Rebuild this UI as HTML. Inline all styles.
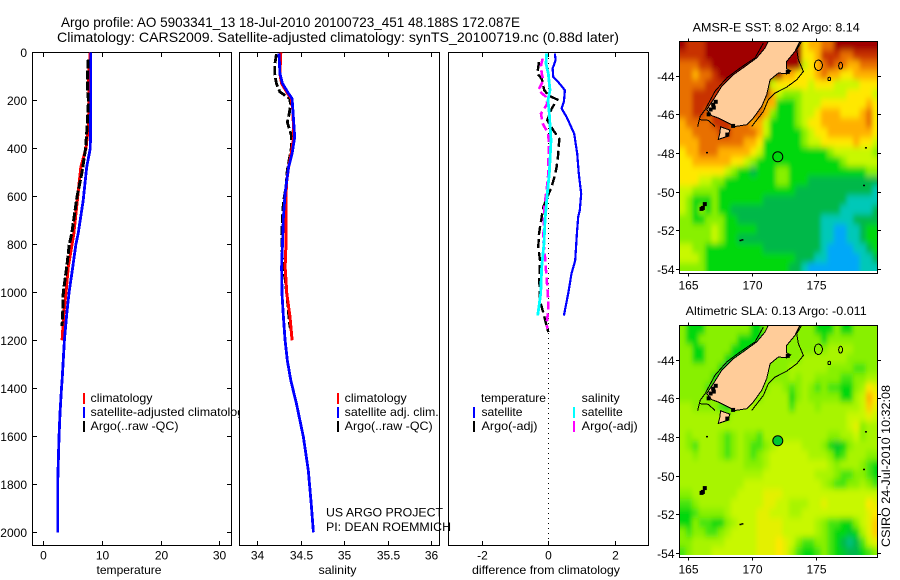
<!DOCTYPE html>
<html>
<head>
<meta charset="utf-8">
<title>Argo profile</title>
<style>
html,body{margin:0;padding:0;background:#fff;}
svg{display:block;}
text{font-family:"Liberation Sans",sans-serif;font-size:12px;fill:#000;}
.t{font-size:14px;}
</style>
</head>
<body>
<svg id="chart" xmlns="http://www.w3.org/2000/svg" width="900" height="580" viewBox="0 0 900 580">
<defs>
<clipPath id="clip-sst"><rect x="680" y="42" width="197" height="229"/></clipPath>
<clipPath id="clip-sla"><rect x="680" y="326" width="197" height="229"/></clipPath>
<filter id="soft" x="-5%" y="-5%" width="110%" height="110%"><feGaussianBlur stdDeviation="2.2 3.2"/></filter>
</defs>
<rect width="900" height="580" fill="#fff"/>
<text class="t" x="61" y="27" textLength="459" lengthAdjust="spacingAndGlyphs">Argo profile: AO 5903341_13 18-Jul-2010 20100723_451 48.188S 172.087E</text>
<text class="t" x="57" y="42" textLength="562" lengthAdjust="spacingAndGlyphs">Climatology: CARS2009. Satellite-adjusted climatology: synTS_20100719.nc (0.88d later)</text>

<g id="p1">
<rect x="32.5" y="52.5" width="199" height="493" fill="#fff" stroke="#000"/>
<g id="p1-lines"></g>
<g>
<rect x="83" y="393" width="2" height="11" fill="#f00"/>
<rect x="83" y="407" width="2" height="11" fill="#00f"/>
<rect x="83" y="421" width="2" height="11" fill="#000"/>
<text x="90.5" y="402" textLength="62" lengthAdjust="spacingAndGlyphs">climatology</text>
<text x="90.5" y="416" textLength="160" lengthAdjust="spacingAndGlyphs">satellite-adjusted climatology</text>
<text x="90.5" y="430" textLength="88" lengthAdjust="spacingAndGlyphs">Argo(..raw -QC)</text>
</g>
<text x="129" y="574" text-anchor="middle" textLength="65" lengthAdjust="spacingAndGlyphs">temperature</text>
</g>

<g id="p2">
<rect x="239.5" y="52.5" width="200" height="493" fill="#fff" stroke="#000"/>
<g id="p2-lines"></g>
<g>
<rect x="337" y="393" width="2" height="11" fill="#f00"/>
<rect x="337" y="407" width="2" height="11" fill="#00f"/>
<rect x="337" y="421" width="2" height="11" fill="#000"/>
<text x="344.7" y="402" textLength="62" lengthAdjust="spacingAndGlyphs">climatology</text>
<text x="344.7" y="416" textLength="94" lengthAdjust="spacingAndGlyphs">satellite adj. clim.</text>
<text x="344.7" y="430" textLength="88" lengthAdjust="spacingAndGlyphs">Argo(..raw -QC)</text>
</g>
<text x="337.5" y="574" text-anchor="middle" textLength="38" lengthAdjust="spacingAndGlyphs">salinity</text>
</g>

<g id="p3">
<rect x="448.5" y="52.5" width="200" height="493" fill="#fff" stroke="#000"/>
<line x1="548.5" y1="53" x2="548.5" y2="545" stroke="#000" stroke-width="1" stroke-dasharray="1 4" shape-rendering="crispEdges"/>
<g id="p3-lines"></g>
<g>
<text x="481" y="402" textLength="65" lengthAdjust="spacingAndGlyphs">temperature</text>
<text x="581.7" y="402" textLength="38" lengthAdjust="spacingAndGlyphs">salinity</text>
<rect x="473" y="407" width="2" height="11" fill="#00f"/>
<rect x="473" y="421" width="2" height="11" fill="#000"/>
<rect x="573" y="407" width="2" height="11" fill="#0ff"/>
<rect x="573" y="421" width="2" height="11" fill="#f0f"/>
<text x="481.5" y="416" textLength="41" lengthAdjust="spacingAndGlyphs">satellite</text>
<text x="481.5" y="430" textLength="56" lengthAdjust="spacingAndGlyphs">Argo(-adj)</text>
<text x="581.7" y="416" textLength="41" lengthAdjust="spacingAndGlyphs">satellite</text>
<text x="581.7" y="430" textLength="56" lengthAdjust="spacingAndGlyphs">Argo(-adj)</text>
</g>
<text x="546" y="574" text-anchor="middle" textLength="148" lengthAdjust="spacingAndGlyphs">difference from climatology</text>
</g>

<text x="326" y="516.5" textLength="117" lengthAdjust="spacingAndGlyphs">US ARGO PROJECT</text>
<text x="326" y="531" textLength="125" lengthAdjust="spacingAndGlyphs">PI: DEAN ROEMMICH</text>

<text x="692.7" y="31.5" textLength="167" lengthAdjust="spacingAndGlyphs">AMSR-E SST: 8.02 Argo: 8.14</text>
<text x="685.7" y="315" textLength="181" lengthAdjust="spacingAndGlyphs">Altimetric SLA: 0.13 Argo: -0.011</text>
<g id="m1"></g>
<g id="m2"></g>
<text transform="translate(890,547) rotate(-90)" textLength="162" lengthAdjust="spacingAndGlyphs">CSIRO 24-Jul-2010 10:32:08</text>
</svg>

<script>
// ---- profile axis ticks ----
const depthTicks = [0, 200, 400, 600, 800, 1000, 1200, 1400, 1600, 1800, 2000];
const tempTicks = [0, 10, 20, 30];
const salTicks = [34, 34.5, 35, 35.5, 36];
const salTickLabels = ["34", "34.5", "35", "35.5", "36"];
const diffTicks = [-2, 0, 2];

// ---- temperature panel ----
const tempClimDepth = [0, 100, 200, 300, 400, 478, 617, 755, 896, 1000, 1088, 1200];
const tempClimValue = [8.0, 7.7, 7.8, 7.7, 7.27, 6.4, 5.8, 5.2, 4.25, 3.87, 3.5, 3.2];
const tempSatDepth = [0, 100, 200, 400, 478, 617, 755, 800, 896, 1000, 1088, 1200, 1367, 1400, 1504, 1604, 1796, 2000];
const tempSatValue = [8.1, 8.1, 8.1, 8.0, 7.4, 6.8, 5.95, 5.55, 5.0, 4.4, 4.0, 3.6, 3.2, 3.1, 2.85, 2.67, 2.45, 2.45];
const tempArgoDepth = [30, 100, 150, 200, 300, 400, 500, 600, 755, 800, 896, 1000, 1088, 1140];
const tempArgoValue = [7.67, 7.5, 7.5, 7.7, 7.5, 7.2, 6.6, 5.75, 4.85, 4.43, 3.98, 3.4, 3.3, 3.2];

// ---- salinity panel ----
const salClimDepth = [0, 89, 130, 172, 193, 242, 353, 422, 478, 533, 589, 686, 797, 894, 1005, 1103, 1200];
const salClimValue = [34.27, 34.26, 34.28, 34.35, 34.39, 34.41, 34.42, 34.39, 34.36, 34.34, 34.33, 34.33, 34.33, 34.32, 34.34, 34.376, 34.40];
const salSatDepth = [5, 89, 130, 172, 193, 242, 353, 422, 478, 533, 589, 686, 797, 894, 1005, 1103, 1200, 1283, 1367, 1463, 1603, 1742, 1880, 2000];
const salSatValue = [34.25, 34.26, 34.29, 34.36, 34.40, 34.41, 34.43, 34.40, 34.36, 34.34, 34.32, 34.30, 34.29, 34.28, 34.284, 34.30, 34.32, 34.345, 34.385, 34.45, 34.53, 34.587, 34.62, 34.645];
const salArgoDepth = [8, 54, 89, 130, 165, 180, 193, 218, 250, 292, 320, 350, 392, 440, 490, 560, 625, 686, 764, 875, 945, 1030, 1130, 1150];
const salArgoValue = [34.22, 34.20, 34.20, 34.22, 34.26, 34.32, 34.376, 34.38, 34.37, 34.345, 34.37, 34.395, 34.395, 34.37, 34.345, 34.33, 34.30, 34.29, 34.28, 34.29, 34.32, 34.345, 34.37, 34.38];

// ---- difference panel ----
const diffTempSatDepth = [5, 33, 68, 103, 124, 158, 206, 234, 269, 339, 422, 506, 589, 658, 686, 755, 867, 922, 1005, 1097];
const diffTempSatValue = [0.2, 0.22, 0.13, 0.15, 0.3, 0.5, 0.47, 0.4, 0.55, 0.78, 0.87, 0.92, 0.99, 0.95, 0.9, 0.86, 0.81, 0.7, 0.6, 0.47];
const diffTempArgoDepth = [40, 89, 110, 158, 179, 197, 235, 283, 325, 360, 422, 478, 513, 561, 603, 644, 686, 756, 811, 867, 950, 1034, 1061, 1096, 1131, 1166];
const diffTempArgoValue = [-0.28, -0.33, -0.2, -0.12, 0, 0.27, 0.1, -0.03, 0.15, 0.33, 0.3, 0.25, 0.2, 0.1, -0.03, -0.15, -0.2, -0.28, -0.3, -0.25, -0.27, -0.25, -0.2, -0.13, -0.07, 0];
const diffSalSatDepth = [5, 47, 89, 158, 200, 255, 367, 506, 589, 700, 797, 894, 1005, 1097];
const diffSalSatValue = [-0.05, -0.07, 0, 0.05, -0.01, 0.03, 0.08, 0.03, -0.03, -0.1, -0.13, -0.2, -0.23, -0.32];
const diffSalArgoDepth = [26, 54, 89, 117, 158, 186, 214, 256, 297, 339, 394, 436, 506, 575, 644, 686, 784, 853, 909, 978, 1034, 1075, 1131, 1152];
const diffSalArgoValue = [-0.17, -0.22, -0.2, -0.15, -0.3, -0.07, -0.03, -0.22, -0.17, 0, 0.02, 0, 0, -0.05, -0.12, -0.13, -0.15, -0.1, -0.07, -0.03, 0, 0, -0.05, -0.03];

// ---- map axis ticks ----
const lonTicks = [165, 170, 175];
const latTicks = [-44, -46, -48, -50, -52, -54];

// ---- map grids: colour level per cell, rows north to south, columns west to east ----
const sstGrid = [
[10,9,9,9,10,10,10,10,10,10,10,10,10,10,10,10,10,10,10,6,7,7,8,8,10,10,10,10,10,10,10],
[9,9,9,9,10,10,10,10,10,10,10,10,10,10,10,10,10,10,10,6,6,7,9,9,9,8,8,9,9,9,9],
[8,8,8,9,9,10,10,10,10,10,10,10,10,10,10,10,10,10,10,5,6,7,8,9,8,8,7,7,8,8,8],
[8,8,7,8,8,9,10,10,10,10,10,10,10,10,10,10,7,7,6,6,6,7,8,7,7,6,6,7,7,7,7],
[8,8,8,8,9,9,9,10,10,10,10,10,10,10,5,6,6,6,6,6,5,6,6,6,5,5,5,5,6,6,6],
[8,8,9,9,9,9,10,10,10,10,10,10,10,10,7,5,4,4,4,5,5,5,5,5,5,5,6,6,6,6,5],
[8,8,9,9,9,9,10,10,10,10,10,10,10,7,7,3,3,3,4,5,5,5,6,6,6,6,6,6,6,7,6],
[8,8,9,9,8,9,9,9,9,9,9,9,8,7,4,3,3,3,4,5,5,6,7,7,7,6,6,6,7,8,6],
[7,8,8,8,8,9,9,9,8,8,8,7,7,5,3,3,3,3,4,5,6,6,7,7,7,7,7,7,7,8,6],
[7,7,8,8,8,8,9,9,8,8,8,8,7,5,3,3,3,3,3,4,5,6,6,7,7,7,7,7,7,7,6],
[7,7,7,8,8,8,8,8,8,8,7,7,6,3,3,3,3,3,3,4,5,5,6,6,6,6,6,7,6,6,5],
[6,7,7,8,8,8,7,7,7,7,7,6,5,3,3,3,3,3,3,3,3,3,3,4,5,5,5,5,5,5,4],
[6,6,7,7,7,7,7,7,6,6,5,4,3,3,3,3,3,3,3,3,3,3,3,3,3,4,5,5,5,5,5],
[6,6,6,6,6,6,6,5,4,3,3,2,3,3,3,4,4,3,3,3,3,3,3,3,3,3,3,3,3,4,4],
[6,6,6,5,5,4,4,3,3,3,3,3,3,3,3,4,4,3,3,3,2,2,2,2,2,2,2,2,2,2,2],
[5,5,4,4,4,4,3,3,3,3,3,3,3,3,3,3,3,3,2,2,2,2,2,2,2,2,2,2,2,2,1],
[5,4,3,3,3,4,3,3,3,3,3,3,3,2,2,2,2,2,2,2,2,2,2,2,2,2,1,1,1,1,1],
[5,4,3,4,3,4,3,3,2,2,2,2,2,2,2,2,2,2,2,2,2,2,2,2,2,1,1,1,1,1,2],
[4,4,3,3,4,4,4,3,3,2,2,2,2,2,2,2,2,2,2,2,2,2,1,1,1,1,1,2,2,2,2],
[4,4,4,4,4,5,4,3,3,3,3,3,2,2,2,2,2,2,2,2,2,2,1,1,0,0,1,1,2,3,3],
[4,4,4,4,4,5,4,3,3,2,2,2,2,2,2,2,2,2,2,2,2,2,1,1,0,0,1,1,2,3,3],
[5,5,4,4,3,3,3,3,3,3,3,3,3,2,2,2,2,2,2,2,2,2,1,0,0,0,0,1,1,2,3],
[5,5,5,4,3,3,3,3,3,3,3,3,3,3,3,3,3,3,2,2,2,1,1,0,0,0,0,0,1,1,2],
[4,4,4,4,3,3,3,3,3,3,3,3,3,3,3,3,3,2,2,1,0,0,0,0,0,0,0,0,1,1,1]
];
const slaGrid = [
[4,3,3,3,4,4,4,4,4,4,4,3,3,4,4,4,4,4,4,4,4,3,3,3,4,3,3,4,4,4,4],
[4,3,3,4,4,4,4,4,4,3,3,3,3,4,4,4,4,4,4,4,4,4,3,4,4,4,4,4,4,4,4],
[4,4,3,3,4,4,4,4,3,3,3,3,4,4,4,4,4,4,4,4,4,4,4,4.5,4.5,4.5,4.5,4,4,4,4],
[4,4,3,3,4,4,4,3,3,3,3,4,4,4,4,4,4,4,4,4.5,4.5,4.5,4.5,4.5,4.5,4.5,4,4,4,4,4],
[4,4,4,4,4,4,3,2,3,4,4,4,4,4,4,4,4,4.5,4.5,4.5,4.5,4.5,4.5,4,4,4,4,3.5,3.5,4,4],
[4,4,4,4,4,3,3,3,4,4,4,4,4,4,4,4,4,4.5,4,4.5,4.5,4,4,4,4,3.5,3.5,4,4,4.5,4.5],
[4,4,4,4,3.5,3.5,4,4,4,4,4,4,4,4,4.5,4.5,4,3.5,4,4.5,4,3.5,4,3.5,3.5,3,3,4,4.5,6,5.5],
[4,4,4,4,4,4,4,4,4,4,4,4,4,4.5,4.5,4.5,4.5,3,4,4.5,4,4,4,4,4,3,3,4.5,5,7,6],
[4.5,4.5,4,4,4,4,3.5,3,4,4.5,4.5,4.5,4.5,4.5,4.5,4.5,4.5,3.5,4.5,4.5,4.5,4,4.5,4.5,4.5,4.5,4.5,4.5,5,6.5,5.5],
[4.5,4.5,4.5,4.5,4.5,4.5,4.5,4,4.5,4.5,4.5,4.5,4.5,4.5,4.5,4.5,4.5,4.5,4.5,4.5,4.5,4.5,4.5,4.5,4.5,4.5,5,5,5,5.5,5],
[4.5,4.5,4.5,4.5,4.5,4.5,4.5,4.5,4.5,4.5,4.5,4.5,4.5,4.5,4.5,4.5,4.5,4.5,4.5,4.5,4.5,4.5,4.5,4.5,4.5,4.5,5,5.5,4,4.5,4.5],
[4.5,4,4.5,4.5,4.5,4.5,4,3.5,4,4.5,4,4,3.5,4.5,4.5,4.5,4.5,4.5,4.5,4.5,4.5,4.5,4.5,4,4,4.5,4.5,5,4,4.5,4.5],
[4.5,4,3.5,4.5,4.5,4.5,4,3.5,4,4.5,4,3.5,3.5,4,4.5,5,5,5,5,4.5,4.5,4.5,4,3,2.5,3,4,4.5,4.5,4.5,4.5],
[4.5,4.5,4,4.5,4.5,4.5,4,3.5,4,4.5,4,3.5,4,4.5,5,5,5,5,5,5,4.5,4.5,4.5,4,3,3.5,4.5,4.5,4.5,4,4],
[4.5,4.5,4.5,4.5,4.5,4.5,4.5,4.5,4.5,4.5,4,4,4,4.5,5,5,5,5,5,5,5,5,5,4.5,4,4.5,4.5,4.5,4,3.5,3],
[4.5,4.5,4.5,4.5,4.5,4.5,4.5,4.5,4.5,4.5,4.5,4.5,4.5,5,5,5,5,5,5,5,5,4.5,4.5,4.5,4,3.5,3.5,4,4,3.5,3],
[4.5,4.5,4.5,4.5,4.5,4.5,4.5,4.5,4.5,4.5,5,5,5,5,5,5,5,5,5,5,5,5,4.5,4,3.5,3.5,4,4,4.5,4,3.5],
[4,4,4.5,4.5,4.5,4.5,4.5,4.5,4.5,5,5,5,5,5.5,5.5,5.5,5,5,5,5,5,5,5,5,5,5,5,5,5,5,5],
[3.5,3.5,4,4.5,4.5,4.5,4.5,4.5,5,5,5,5,5,5.5,5.5,5,5,4.5,4.5,4.5,5,5,5.5,5,5,5,5,5,5,6,5.5],
[3,3,3.5,4,4,4,4,4.5,5,5,5,5,5.5,5.5,5,5,5,4.5,4.5,5,5,5,5,5,5,5,5,5,5,5.5,6],
[3,3,4,3.5,3.5,3,3,4,4.5,5,5,5,5.5,5.5,5.5,5.5,5,5,5,5,5,4.5,4,3.5,3.5,3,3,4,5,5.5,6.5],
[4,3.5,4,4,3.5,3.5,4,4.5,5,5,5,5,5.5,5.5,5.5,5.5,5,5,5,5,5,4.5,4,3.5,3,3,2.5,3,4.5,5.5,6.5],
[4,4,4.5,4.5,4.5,4.5,4.5,5,5,5,5,5,5.5,5.5,5.5,6,5.5,5,4,3.5,3.5,4,4,3.5,3,2,1.5,2,3.5,5,5.5],
[3.5,4,4.5,4.5,4.5,5,5,5,5,5,5,5,5.5,5.5,5.5,6,5.5,4.5,3.5,3,3,3.5,4,3.5,3,2.5,2,2,3,3.5,4]
];

// ---- geography in longitude / latitude ----
const southIslandLon = [171.27,171.01,170.36,169.46,168.55,167.64,167.0,166.48,166.87,167.38,167.9,168.68,169.59,170.1,170.75,171.14,171.4,172.05,172.69,173.0,172.69,172.69,173.34,173.73];
const southIslandLat = [-42.2,-42.57,-43.08,-43.52,-43.95,-44.55,-45.24,-45.76,-46.07,-46.19,-46.37,-46.63,-46.54,-46.19,-45.59,-44.98,-44.21,-43.86,-43.9,-43.75,-43.65,-43.26,-42.74,-42.2];
const stewartLon = [167.55,168.27,168.15,167.38,167.5];
const stewartLat = [-46.65,-46.82,-47.13,-47.3,-46.97];
const eastContourLon = [173.86,173.47,173.6,173.99,173.47,172.69,171.79,171.27,170.88,169.97];
const eastContourLat = [-42.22,-42.65,-43.17,-43.78,-44.21,-44.59,-44.9,-45.24,-45.85,-46.63];
const westContourLon = [170.88,170.23,169.07,168.03,167.12,166.35,165.96,165.78];
const westContourLat = [-42.31,-43.08,-43.6,-44.12,-44.81,-45.76,-46.11,-46.63];
const southContourLon = [165.96,166.6,167.12];
const southContourLat = [-46.28,-46.31,-46.63];
const seamountLon = [175.16, 176.88, 176.0];
const seamountLat = [-43.46, -43.48, -44.17];
const seamountRadiusLon = [0.31, 0.15, 0.1];
const seamountRadiusLat = [0.27, 0.18, 0.09];
const isletLon = [166.1, 166.25, 166.0, 166.5, 169.1, 169.25, 178.85, 178.7, 166.9, 166.7, 166.95, 167.1, 166.55, 168.0, 168.45, 172.7];
const isletLat = [-50.8, -50.6, -50.85, -48.0, -52.55, -52.52, -47.75, -49.7, -45.45, -45.7, -45.6, -45.3, -45.95, -47.0, -46.55, -43.75];
const argoLon = [172.0];
const argoLat = [-48.2];

// ---- scales ----
const xTemp = v => 43.3 + 5.87 * v;
const xSal = v => 257.3 + 86.9 * (v - 34);
const xDiff = v => 548.3 + 33.2 * v;
const yDepth = v => 52.3 + 0.24 * v;
const xLon = v => 687.7 + 12.87 * (v - 165);
const yLat = (v, top) => top + 34.7 + 19.3 * (-44 - v);

const SVGNS = 'http://www.w3.org/2000/svg';
function mk(tag, parent, attrs) {
  const el = document.createElementNS(SVGNS, tag);
  for (const k in attrs) el.setAttribute(k, attrs[k]);
  parent.appendChild(el);
  return el;
}
function tickLine(parent, name, x1, y1, x2, y2) {
  const el = mk('line', parent, {x1, y1, x2, y2, stroke: '#000', 'stroke-width': 1, 'shape-rendering': 'crispEdges'});
  
  
}
function label(parent, name, x, y, anchor, str) {
  const el = mk('text', parent, {x, y, 'text-anchor': anchor});
  el.textContent = str;
  
  
}
function profile(parent, name, xs, ds, xf, color, width, dash) {
  const pts = ds.map((d, i) => xf(xs[i]).toFixed(1) + ',' + yDepth(d).toFixed(1)).join(' ');
  const attrs = {points: pts, fill: 'none', stroke: color, 'stroke-width': width, 'shape-rendering': 'crispEdges'};
  if (dash) attrs['stroke-dasharray'] = dash;
  const el = mk('polyline', parent, attrs);
  
  
}

// temperature panel
const p1 = document.getElementById('p1');
const p1L = document.getElementById('p1-lines');
profile(p1L, 'temperature-climatology-line', tempClimValue, tempClimDepth, xTemp, '#f00', 3);
profile(p1L, 'temperature-argo-line', tempArgoValue, tempArgoDepth, xTemp, '#000', 3, '9 2');
profile(p1L, 'temperature-satellite-line', tempSatValue, tempSatDepth, xTemp, '#00f', 2.8);
depthTicks.forEach(d => {
  const y = Math.round(yDepth(d)) + 0.5;
  tickLine(p1, 'y-tick-left', 33, y, 37, y);
  tickLine(p1, 'y-tick-right', 227, y, 231, y);
  label(p1, 'y-tick-label', 27, y + 4.5, 'end', String(d));
});
tempTicks.forEach(v => {
  const x = Math.round(xTemp(v)) + 0.5;
  tickLine(p1, 'x-tick-top', x, 53, x, 57);
  tickLine(p1, 'x-tick-bottom', x, 541, x, 545);
  label(p1, 'x-tick-label', x, 559.5, 'middle', String(v));
});

// salinity panel
const p2 = document.getElementById('p2');
const p2L = document.getElementById('p2-lines');
profile(p2L, 'salinity-argo-line', salArgoValue, salArgoDepth, xSal, '#000', 2.8, '9 3');
profile(p2L, 'salinity-climatology-line', salClimValue, salClimDepth, xSal, '#f00', 3);
profile(p2L, 'salinity-satellite-line', salSatValue, salSatDepth, xSal, '#00f', 2.8);
salTicks.forEach((v, i) => {
  const x = Math.round(xSal(v)) + 0.5;
  tickLine(p2, 'x-tick-top', x, 53, x, 57);
  tickLine(p2, 'x-tick-bottom', x, 541, x, 545);
  label(p2, 'x-tick-label', x, 559.5, 'middle', salTickLabels[i]);
});

// difference panel
const p3 = document.getElementById('p3');
const p3L = document.getElementById('p3-lines');
profile(p3L, 'difference-temp-satellite-line', diffTempSatValue, diffTempSatDepth, xDiff, '#00f', 2.2);
profile(p3L, 'difference-temp-argo-line', diffTempArgoValue, diffTempArgoDepth, xDiff, '#000', 2.4, '9 4');
profile(p3L, 'difference-sal-argo-line', diffSalArgoValue, diffSalArgoDepth, xDiff, '#f0f', 2.6, '8 4');
profile(p3L, 'difference-sal-satellite-line', diffSalSatValue, diffSalSatDepth, xDiff, '#0ff', 2.8);
diffTicks.forEach(v => {
  const x = Math.round(xDiff(v)) + 0.5;
  tickLine(p3, 'x-tick-top', x, 53, x, 57);
  tickLine(p3, 'x-tick-bottom', x, 541, x, 545);
  label(p3, 'x-tick-label', x, 559.5, 'middle', v < 0 ? '-' + Math.abs(v) : String(v));
});

// colour scale
const colorStops = ['#00a8f8','#00c8b8','#00b848','#00d810','#88f000','#c8f800','#ffe800','#ffb000','#e87000','#c83000','#a00000'];
function hexRgb(h) { return [1, 3, 5].map(i => parseInt(h.substr(i, 2), 16)); }
function colorOf(v) {
  const t = Math.max(0, Math.min(10, v));
  const a = Math.floor(t), b = Math.min(10, a + 1), f = t - a;
  const A = hexRgb(colorStops[a]), B = hexRgb(colorStops[b]);
  return 'rgb(' + A.map((c, i) => Math.round(c + (B[i] - c) * f)).join(',') + ')';
}

function drawMap(id, grid, top, clipId, key, filled) {
  const root = document.getElementById(id);
  const frameTop = top + 0.5, frameH = 232;
  const clip = mk('g', root, {'clip-path': 'url(#' + clipId + ')'});
  
  
  const soft = mk('g', clip, {filter: 'url(#soft)'});
  const lon0 = 164.35, lat0 = -42.2, dLon = 0.5, dLat = 0.5;
  grid.forEach((row, r) => {
    row.forEach((v, c) => {
      const x0 = xLon(lon0 + c * dLon) - (c === 0 ? 12 : 0);
      const x1 = xLon(lon0 + (c + 1) * dLon) + (c === row.length - 1 ? 12 : 0);
      const y0 = yLat(lat0 - r * dLat, top) - (r === 0 ? 12 : 0);
      const y1 = yLat(lat0 - (r + 1) * dLat, top) + (r === grid.length - 1 ? 12 : 0);
      const cell = mk('rect', soft, {x: x0.toFixed(2), y: y0.toFixed(2), width: (x1 - x0 + 0.5).toFixed(2), height: (y1 - y0 + 0.5).toFixed(2), fill: colorOf(v)});
      
      
    });
  });
  const pts = (lons, lats) => lons.map((l, i) => xLon(l).toFixed(1) + ',' + yLat(lats[i], top).toFixed(1)).join(' ');
  const land = mk('polygon', clip, {points: pts(southIslandLon, southIslandLat) + ' ' + xLon(173.73) + ',' + (top - 5) + ' ' + xLon(171.27) + ',' + (top - 5), fill: '#ffcc99', stroke: '#000', 'stroke-width': 1, 'shape-rendering': 'crispEdges'});
  
  
  const stewart = mk('polygon', clip, {points: pts(stewartLon, stewartLat), fill: '#ffcc99', stroke: '#000', 'stroke-width': 1, 'shape-rendering': 'crispEdges'});
  
  
  [[eastContourLon, eastContourLat, 'east-contour'], [westContourLon, westContourLat, 'west-contour'], [southContourLon, southContourLat, 'south-contour']].forEach(s => {
    const line = mk('polyline', clip, {points: pts(s[0], s[1]), fill: 'none', stroke: '#000', 'stroke-width': 1, 'shape-rendering': 'crispEdges'});
    
    
  });
  seamountLon.forEach((l, i) => {
    const e = mk('ellipse', clip, {cx: xLon(l), cy: yLat(seamountLat[i], top), rx: (seamountRadiusLon[i] * 12.87).toFixed(2), ry: (seamountRadiusLat[i] * 19.3).toFixed(2), fill: 'none', stroke: '#000', 'stroke-width': 1, 'shape-rendering': 'crispEdges'});
    
    
  });
  isletLon.forEach((l, i) => {
    const big = i < 3 || i > 7;
    const e = mk('rect', clip, {x: xLon(l) - 1, y: yLat(isletLat[i], top) - 1, width: big ? 4 : 2, height: big ? 4 : 1.5, fill: '#000'});
    
    
  });
  argoLon.forEach((l, i) => {
    const c = mk('circle', clip, {cx: xLon(l), cy: yLat(argoLat[i], top), r: 5, fill: filled ? '#00c830' : 'none', stroke: '#000', 'stroke-width': 1});
    
    
  });
  const frame = mk('rect', root, {x: 679.5, y: frameTop, width: 198, height: frameH, fill: 'none', stroke: '#000', 'stroke-width': 1, 'shape-rendering': 'crispEdges'});
  
  
  lonTicks.forEach(v => {
    const x = Math.round(xLon(v)) + 0.5;
    tickLine(root, 'lon-tick-top', x, frameTop - 3, x, frameTop);
    tickLine(root, 'lon-tick-bottom', x, frameTop + frameH, x, frameTop + frameH + 3);
    label(root, 'lon-tick-label', x, frameTop + frameH + 16, 'middle', String(v));
  });
  latTicks.forEach(v => {
    const y = Math.round(yLat(v, top)) + 0.5;
    tickLine(root, 'lat-tick-left', 676, y, 679.5, y);
    tickLine(root, 'lat-tick-right', 877.5, y, 881, y);
    label(root, 'lat-tick-label', 674.5, y + 4.5, 'end', String(v));
  });
}
drawMap('m1', sstGrid, 41, 'clip-sst', 'sst-map', false);
drawMap('m2', slaGrid, 325, 'clip-sla', 'sla-map', true);
</script>
</body>
</html>
